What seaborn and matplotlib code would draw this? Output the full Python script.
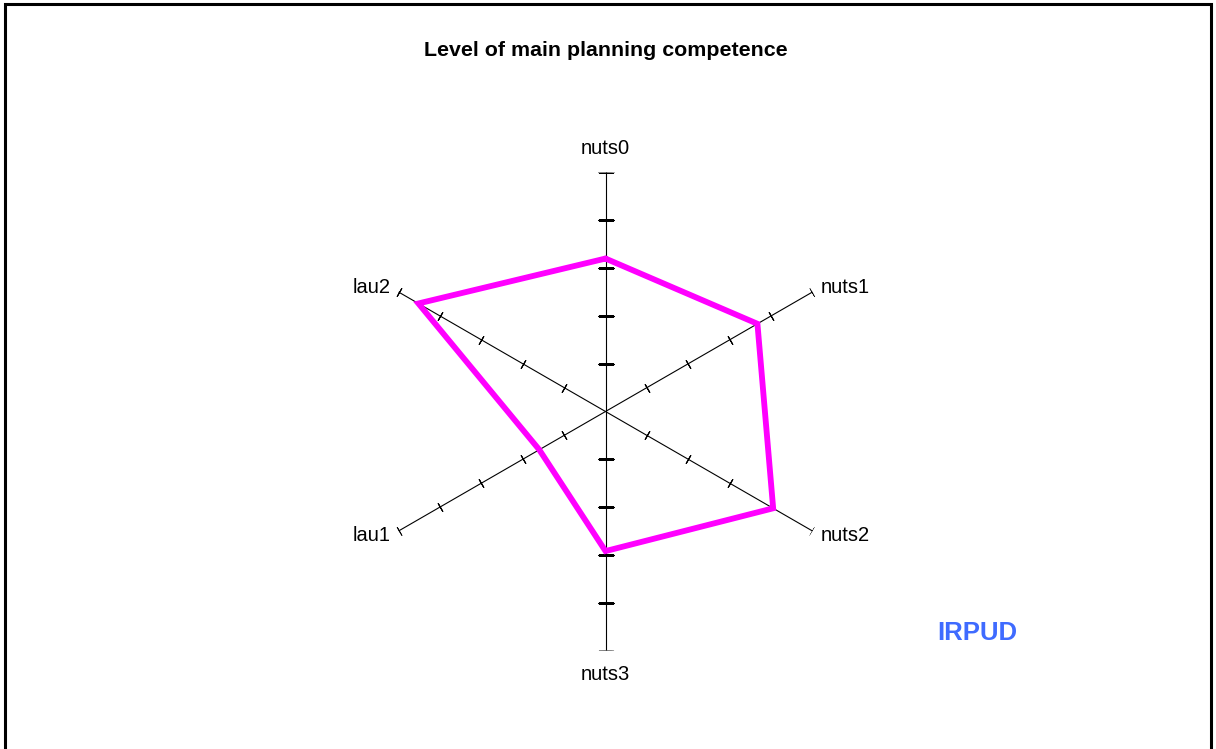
import numpy as np
import seaborn as sns
import matplotlib.pyplot as plt
from matplotlib.patches import Rectangle

# data
categories = ['nuts0', 'nuts1', 'nuts2', 'nuts3', 'lau1', 'lau2']
values = [3.2, 3.67, 4.05, 2.92, 1.6, 4.52]
scale_ticks = [1, 2, 3, 4, 5]

sns.set_style('white')
plt.rcParams['font.family'] = ['Liberation Sans', 'DejaVu Sans']
plt.rcParams['text.color'] = 'black'

fig = plt.figure(figsize=(12.16, 7.49), dpi=100)
ax = fig.add_axes([0.3014, 0.1315, 0.3931, 0.6382], projection='polar')
ax.set_theta_zero_location('N')
ax.set_theta_direction(-1)

n = len(categories)
theta = np.arange(n) * 2 * np.pi / n

# spokes with tick marks
for i, t in enumerate(theta):
    ax.plot([t, t], [0, scale_ticks[-1]], color='black', lw=0.8, zorder=1)
    screen_ang = 90 - np.degrees(t)
    size = 11 if i in (0, 3) else 7
    ax.plot([t] * len(scale_ticks), scale_ticks, linestyle='none',
            marker=(2, 2, screen_ang), markersize=size,
            markeredgecolor='black', markeredgewidth=0.8, zorder=1)

# data polygon (closed by going round to 2*pi)
theta_closed = np.append(theta, 2 * np.pi)
values_closed = values + [values[0]]
sns.lineplot(x=theta_closed, y=values_closed, sort=False, estimator=None, ax=ax,
             color='#FF00FF', lw=4.2, zorder=3)
ax.lines[-1].set_solid_joinstyle('miter')

# category labels
for i, (t, lab) in enumerate(zip(theta, categories)):
    if i in (0, 3):
        ax.text(t, 5.5, lab, ha='center', va='center', fontsize=14.5)
    elif i in (1, 2):
        ax.text(t, 5.2, lab, ha='left', va='center', fontsize=14.5)
    else:
        ax.text(t, 5.2, lab, ha='right', va='center', fontsize=14.5)

ax.set_ylim(0, 5)
ax.grid(False)
ax.set_xticks([])
ax.set_yticks([])
ax.set_xlabel('')
ax.set_ylabel('')
ax.spines['polar'].set_visible(False)
ax.set_facecolor('none')

fig.text(0.4985, 1 - 56 / 749, 'Level of main planning competence',
         ha='center', va='baseline', fontsize=15.4, fontweight='bold')
fig.text(977 / 1216, 1 - 633 / 749, 'IRPUD', ha='center', va='center',
         fontsize=18.5, fontweight='bold', color='#3F6BFF')

fig.patches.append(Rectangle((0.004, -0.02), 0.992, 1.014, transform=fig.transFigure,
                             fill=False, edgecolor='black', lw=2.2))

fig.savefig('out.png', dpi=100)
